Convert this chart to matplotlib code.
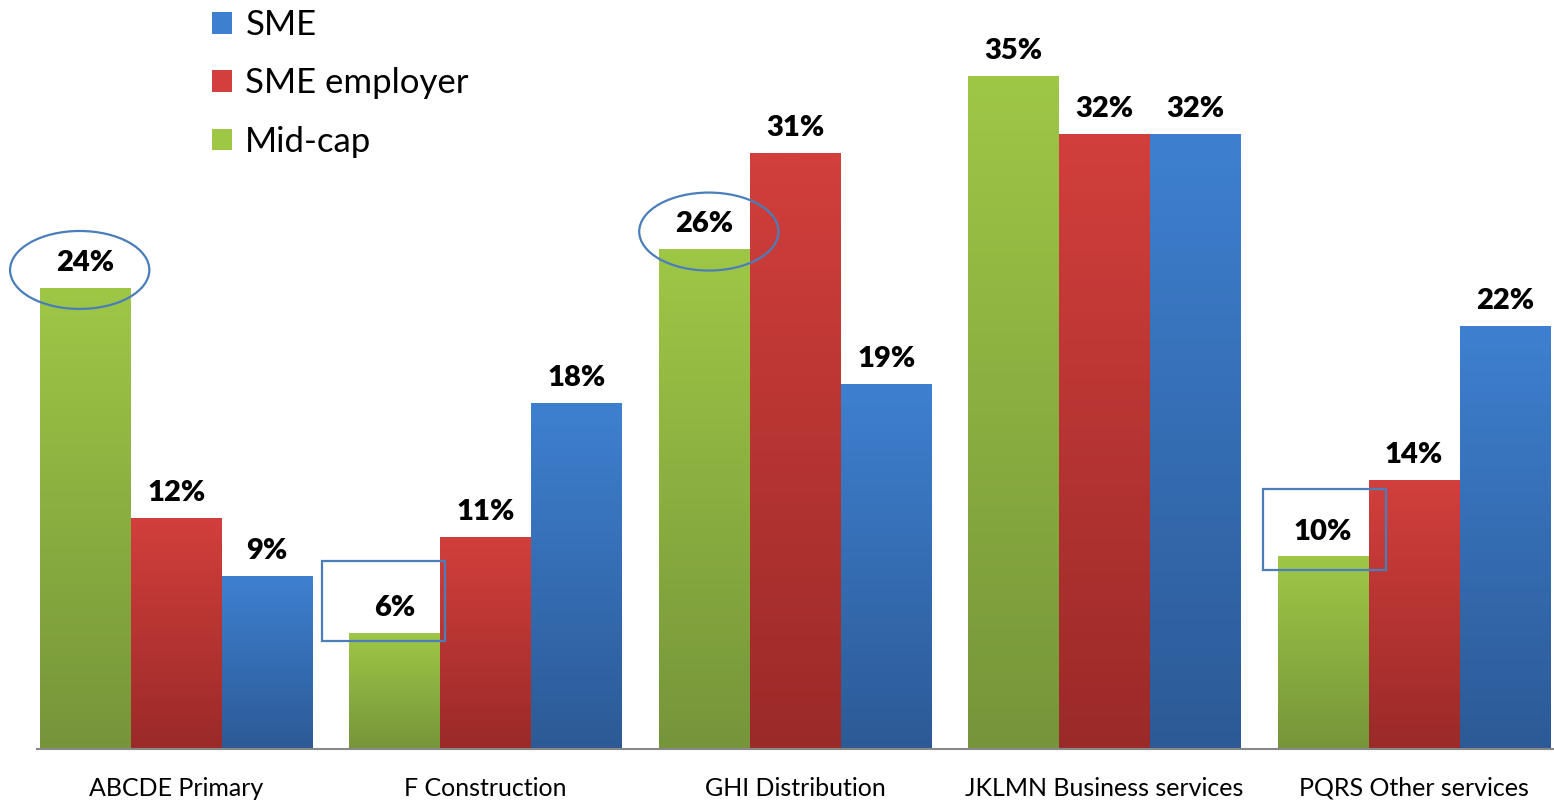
import matplotlib.pyplot as plt
import numpy as np
from matplotlib.colors import LinearSegmentedColormap
from matplotlib.patches import Ellipse, Rectangle, Patch

# share of firms by sector
sectors = ["ABCDE Primary", "F Construction", "GHI Distribution",
           "JKLMN Business services", "PQRS Other services"]
midcap = [24, 6, 26, 35, 10]
sme_employer = [12, 11, 31, 32, 14]
sme = [9, 18, 19, 32, 22]

# (bottom colour, top colour) for each series
series = [
    ("Mid-cap", midcap, ("#76953a", "#9fc746")),
    ("SME employer", sme_employer, ("#9a2a28", "#d23f3c")),
    ("SME", sme, ("#2c5a96", "#3e80d0")),
]

fig = plt.figure(figsize=(15.54, 8.01), dpi=100)
ax = fig.add_axes([37 / 1554, 52 / 801, 1 - 37 / 1554, 729.6 / 801])

x = np.arange(len(sectors))
w = 0.294
grad = np.linspace(0, 1, 256).reshape(-1, 1)

for i, (name, vals, (c0, c1)) in enumerate(series):
    cmap = LinearSegmentedColormap.from_list(name, [c0, c1])
    pos = x + (i - 1) * w
    bars = ax.bar(pos, vals, w, color="none", edgecolor="none", label=name)
    for b, v in zip(bars, vals):
        x0 = b.get_x()
        ax.imshow(grad, cmap=cmap, origin="lower", aspect="auto",
                  extent=[x0, x0 + w, 0, v], zorder=2)
        ax.annotate(f"{v}%", (x0 + w / 2, v), xytext=(0, 9),
                    textcoords="offset points", ha="center", va="bottom",
                    fontsize=21, fontweight="heavy", family="Lato", color="black")

# highlight marks around some mid-cap labels
hl = "#4a7ebb"
ell_dx = {0: -0.018, 2: 0.015}
for k, dx in ell_dx.items():
    ax.add_patch(Ellipse((x[k] - w + dx, midcap[k] + 0.95), 0.45, 4.06,
                         fill=False, edgecolor=hl, lw=1.6, zorder=5,
                         clip_on=False))
rect_off = {1: (-0.235, -0.4), 4: (-0.194, -0.68)}
for k, (dx, dy) in rect_off.items():
    ax.add_patch(Rectangle((x[k] - w + dx, midcap[k] + dy), 0.397, 4.2,
                           fill=False, edgecolor=hl, lw=1.6, zorder=5,
                           clip_on=False))

ax.set_xlim(-0.45, 4.452)
ax.set_ylim(0, 38)
ax.set_xticks(x)
ax.set_xticklabels(sectors, fontsize=18, family="Lato")
ax.tick_params(axis="x", length=0, pad=20)
ax.set_yticks([])
for s in ("top", "right", "left"):
    ax.spines[s].set_visible(False)
ax.spines["bottom"].set_color("#888888")
ax.spines["bottom"].set_linewidth(1.5)

# legend: SME on top, Mid-cap at the bottom
handles = [Patch(facecolor=c[1], edgecolor="none") for _, _, c in series[::-1]]
labels = [n for n, _, _ in series[::-1]]
fig.legend(handles, labels, loc="upper left",
           bbox_to_anchor=(212 / 1554, 1 - 9 / 801),
           frameon=False, prop={"family": "Lato", "size": 25},
           borderpad=0, borderaxespad=0,
           handlelength=0.58, handleheight=0.58, handletextpad=0.38,
           labelspacing=0.76)

fig.savefig("out.png", dpi=100)
